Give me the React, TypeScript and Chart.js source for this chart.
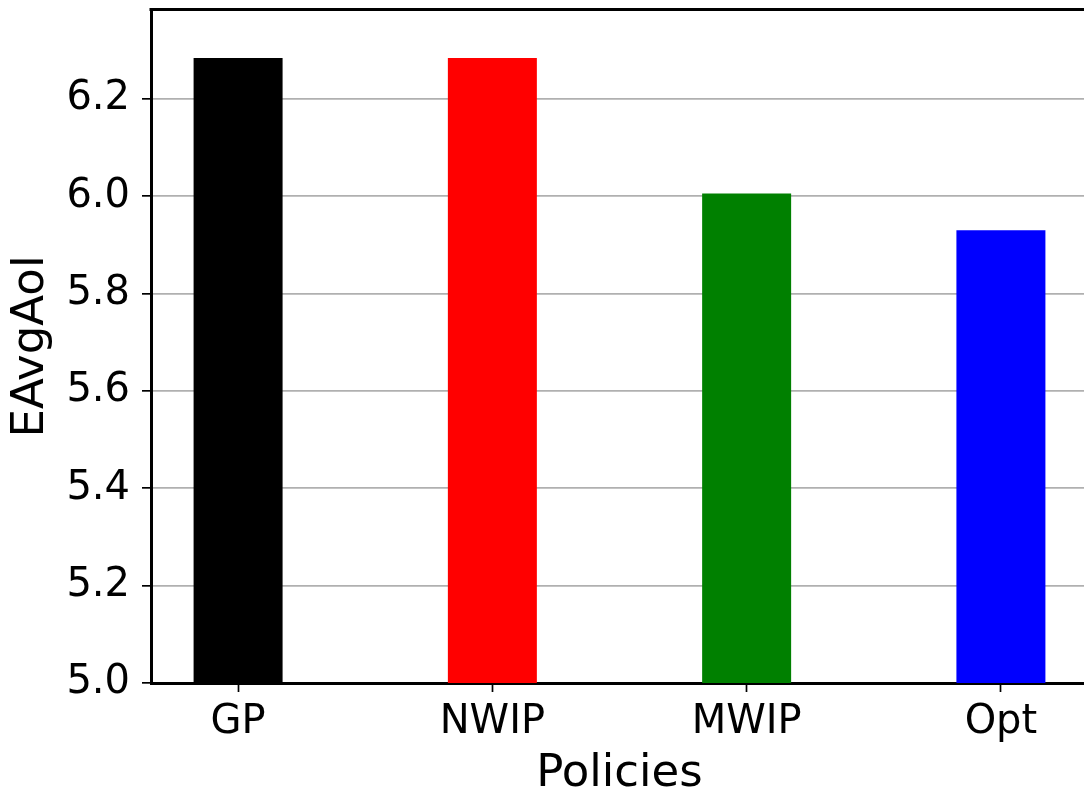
import React, { useEffect, useRef } from "react";
import { Chart, registerables } from "chart.js";

Chart.register(...registerables);

const categories = ["GP", "NWIP", "MWIP", "Opt"];
const values = [6.2836, 6.2836, 6.0055, 5.930];
const barColors = ["#000000", "#ff0000", "#008000", "#0000ff"];
const yTickValues = [5.0, 5.2, 5.4, 5.6, 5.8, 6.0, 6.2];
const yMin = 5.0;
const yMax = 6.3833;
const xMin = -0.3425;
const xMax = 3.3425;

const FONT = "'DejaVu Sans', sans-serif";
const TICK_FS = 40;
const TITLE_FS = 45;

const topSpinePlugin = {
  id: "topSpine",
  afterDraw(chart: any) {
    const { ctx, chartArea } = chart;
    ctx.save();
    ctx.strokeStyle = "#000000";
    ctx.lineWidth = 3;
    ctx.beginPath();
    ctx.moveTo(chartArea.left - 1.5, chartArea.top);
    ctx.lineTo(chartArea.right + 1.5, chartArea.top);
    ctx.moveTo(chartArea.right, chartArea.top);
    ctx.lineTo(chartArea.right, chartArea.bottom);
    ctx.stroke();
    ctx.restore();
  },
};

export default function App() {
  const ref = useRef<HTMLCanvasElement | null>(null);

  useEffect(() => {
    if (!ref.current) return;
    const chart = new Chart(ref.current, {
      type: "bar",
      data: {
        datasets: [
          {
            data: categories.map((_, i) => ({ x: i, y: values[i] })),
            backgroundColor: barColors,
            borderWidth: 0,
            barPercentage: 0.35,
            categoryPercentage: 1,
          },
        ],
      },
      options: {
        animation: false,
        responsive: false,
        maintainAspectRatio: false,
        devicePixelRatio: 1,
        layout: { padding: { top: 9.5, right: 12, left: 0, bottom: 0 } },
        plugins: {
          legend: { display: false },
          tooltip: { enabled: false },
        },
        scales: {
          x: {
            type: "linear",
            min: xMin,
            max: xMax,
            offset: false,
            afterFit: (scale: any) => {
              scale.height = 122;
              scale.paddingLeft = 0;
              scale.paddingRight = 0;
            },
            afterBuildTicks: (scale: any) => {
              scale.ticks = categories.map((_, i) => ({ value: i }));
            },
            grid: {
              display: true,
              drawOnChartArea: false,
              drawTicks: true,
              tickLength: 9,
              tickColor: "#000000",
              tickWidth: 1.7,
              offset: false,
            },
            border: { display: true, color: "#000000", width: 3 },
            ticks: {
              color: "#000000",
              font: { family: FONT, size: TICK_FS, lineHeight: 1.2 },
              padding: 7,
              maxRotation: 0,
              autoSkip: false,
              callback: (v: any) => categories[Math.round(Number(v))] ?? "",
            },
            title: {
              display: true,
              text: "Policies",
              color: "#000000",
              font: { family: FONT, size: TITLE_FS, lineHeight: 1.2 },
              padding: { top: 0, bottom: 3.5 },
            },
          },
          y: {
            type: "linear",
            min: yMin,
            max: yMax,
            afterFit: (scale: any) => {
              scale.width = 151;
              scale.paddingTop = 0;
              scale.paddingBottom = 0;
            },
            afterBuildTicks: (scale: any) => {
              scale.ticks = yTickValues.map((v) => ({ value: v }));
            },
            grid: {
              display: true,
              color: "#b0b0b0",
              lineWidth: 1.7,
              drawTicks: true,
              tickLength: 9,
              tickColor: "#000000",
              tickWidth: 1.7,
            },
            border: { display: true, color: "#000000", width: 3 },
            ticks: {
              color: "#000000",
              font: { family: FONT, size: TICK_FS },
              padding: 12,
              callback: (v: any) => Number(v).toFixed(1),
            },
            title: {
              display: true,
              text: "EAvgAoI",
              color: "#000000",
              font: { family: FONT, size: TITLE_FS, lineHeight: 1.2 },
              padding: { top: 4.5, bottom: 0 },
            },
          },
        },
      },
      plugins: [topSpinePlugin],
    });
    return () => chart.destroy();
  }, []);

  return (
    <div
      style={{
        position: "fixed",
        left: 0,
        top: 0,
        width: 1084,
        height: 792,
        overflow: "hidden",
        background: "#ffffff",
      }}
    >
      <canvas ref={ref} width={1100} height={805} style={{ display: "block", width: 1100, height: 805 }} />
    </div>
  );
}
